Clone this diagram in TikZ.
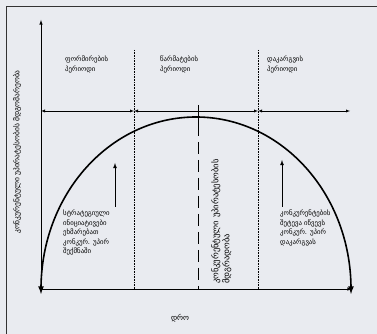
\documentclass[tikz,border=0pt]{standalone}
\usepackage{fontspec}
\newfontfamily\geo{DejaVu Sans}
\usetikzlibrary{arrows.meta}
\definecolor{paper}{RGB}{233,235,240}
\tikzset{
  axis/.style   = {-latex, semithick},
  life/.style   = {latex-latex, line width=1.6pt},
  period/.style = {latex-latex, thin},
  border/.style = {densely dotted, semithick},
  peak/.style   = {dash pattern=on 12pt off 6pt, thick},
  push/.style   = {-latex, thick},
  lab/.style    = {font=\geo\fontsize{6.8}{9.5}\selectfont, inner sep=0pt, align=left},
}

\begin{document}
\begin{tikzpicture}[x=1pt,y=1pt]
  \useasboundingbox (0,0) rectangle (377,334);
  \fill[paper] (0,0) rectangle (377,334);
  \draw[thin, black!80] (6,0) -- (6,328) -- (377,328);

  % axes
  \coordinate (O)  at (41,45);
  \coordinate (ytop) at (41,314);
  \coordinate (xend) at (352,45);
  \draw[axis] (O) -- (ytop);
  \draw[axis] (O) -- (xend);

  % the life curve of the advantage
  \draw[life] (41,40) -- (O) arc[start angle=180, end angle=0, x radius=155, y radius=172] -- (351,40);

  % periods
  \coordinate (b1) at (134,223);
  \coordinate (b2) at (258,223);
  \draw[border] (134,284) -- (134,45);
  \draw[border] (258,284) -- (258,45);
  \draw[period] (41,223) -- (b1);
  \draw[period] (b1) -- (b2);
  \draw[period] (b2) -- (350,223);
  \draw[thick] (198,229) -- (198,210);
  \draw[peak] (198,210) -- (198,45);

  \node[lab, anchor=north west] (form) at (65,278) {ფორმირების\\პერიოდი};
  \node[lab, anchor=north west] (succ) at (160,278) {წარმატების\\პერიოდი};
  \node[lab, anchor=north west] (loss) at (267,278) {დაკარგვის\\პერიოდი};

  % causes
  \node[lab, anchor=north west] (strat) at (63,124)
    {სტრატეგიული\\ინიციატივები\\ეხმარებათ\\კონკურ. უპირ\\შექმნაში};
  \node[lab, anchor=north west] (attack) at (280,124)
    {კონკურენტების\\შეტევა იწვევს\\კონკურ. უპირ\\დაკარგვას};
  \draw[push] (115,127) -- (115,171);
  \draw[push] (282,127) -- (282,174);

  \node[lab, rotate=90, anchor=north west, font=\geo\fontsize{8.5}{11}\selectfont] (hold) at (211,50)
    {კონკურენტული უპირატესობის\\მდგრადობა};
  \node[lab, rotate=90, font=\geo\fontsize{7.5}{9}\selectfont] (ylab) at (17,182)
    {კონკურენტული უპირატესობის მდგომარეობა};
  \node[lab, font=\geo\fontsize{7.5}{9}\selectfont] (time) at (180,16) {დრო};
\end{tikzpicture}
\end{document}
